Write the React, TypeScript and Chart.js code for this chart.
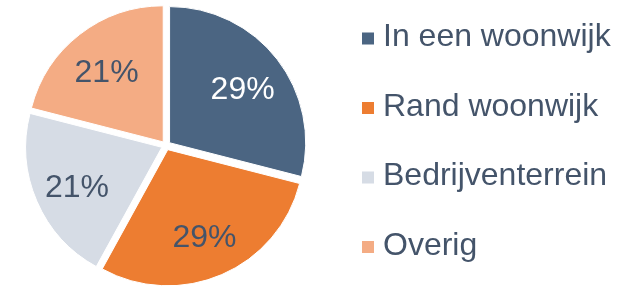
import React, { useEffect, useRef } from "react";
import { Chart, registerables } from "chart.js";

Chart.register(...registerables);

const categories = ["In een woonwijk", "Rand woonwijk", "Bedrijventerrein", "Overig"];
const shares = [29, 29, 21, 21];
const shareLabels = ["29%", "29%", "21%", "21%"];
const sliceColors = ["#4B6582", "#ED7D31", "#D6DCE5", "#F4AC84"];
const labelColors = ["#FFFFFF", "#44546A", "#44546A", "#44546A"];

const FONT = "32px 'Liberation Sans', Arial, sans-serif";
const TEXT_COLOR = "#44546A";

const overlayPlugin = {
  id: "overlay",
  afterDraw(chart: any) {
    const ctx = chart.ctx;
    const meta = chart.getDatasetMeta(0);
    const ds = chart.data.datasets[0] as any;
    const shift = (ds.offset || 0) / 4; // Chart.js translates arcs by offset/4
    ctx.save();
    ctx.font = FONT;
    ctx.textAlign = "center";
    ctx.textBaseline = "middle";
    meta.data.forEach((arc: any, i: number) => {
      const p = arc.getProps(["x", "y", "startAngle", "endAngle", "outerRadius"], true);
      const mid = (p.startAngle + p.endAngle) / 2;
      const r = shift + p.outerRadius * 0.68;
      const x = p.x + Math.cos(mid) * r;
      const y = p.y + Math.sin(mid) * r + 4;
      ctx.fillStyle = labelColors[i];
      ctx.fillText(shareLabels[i], x, y);
    });
    // legend
    const legendLeft = 362;
    const firstY = 38.5;
    const rowGap = 69.5;
    const box = 12;
    ctx.textAlign = "left";
    categories.forEach((c, i) => {
      const cy = firstY + i * rowGap;
      ctx.fillStyle = sliceColors[i];
      ctx.fillRect(legendLeft, cy - box / 2, box, box);
      ctx.fillStyle = TEXT_COLOR;
      ctx.fillText(c, legendLeft + 21, cy - 1);
    });
    ctx.restore();
  },
};

export default function App() {
  const ref = useRef<HTMLCanvasElement | null>(null);
  useEffect(() => {
    if (!ref.current) return;
    const chart = new Chart(ref.current, {
      type: "pie",
      data: {
        labels: categories,
        datasets: [
          {
            data: shares,
            backgroundColor: sliceColors,
            borderColor: "#FFFFFF",
            borderWidth: 1,
            offset: 18,
            radius: 136,
          } as any,
        ],
      },
      options: {
        responsive: false,
        animation: false,
        devicePixelRatio: 1,
        layout: { padding: { left: 0, right: 286, top: 4, bottom: 0 } },
        plugins: {
          legend: { display: false },
          tooltip: { enabled: false },
        },
      },
      plugins: [overlayPlugin],
    });
    return () => chart.destroy();
  }, []);
  return (
    <div style={{ position: "absolute", left: 0, top: 0, width: 618, height: 287, background: "#fff" }}>
      <canvas ref={ref} width={618} height={287} />
    </div>
  );
}
